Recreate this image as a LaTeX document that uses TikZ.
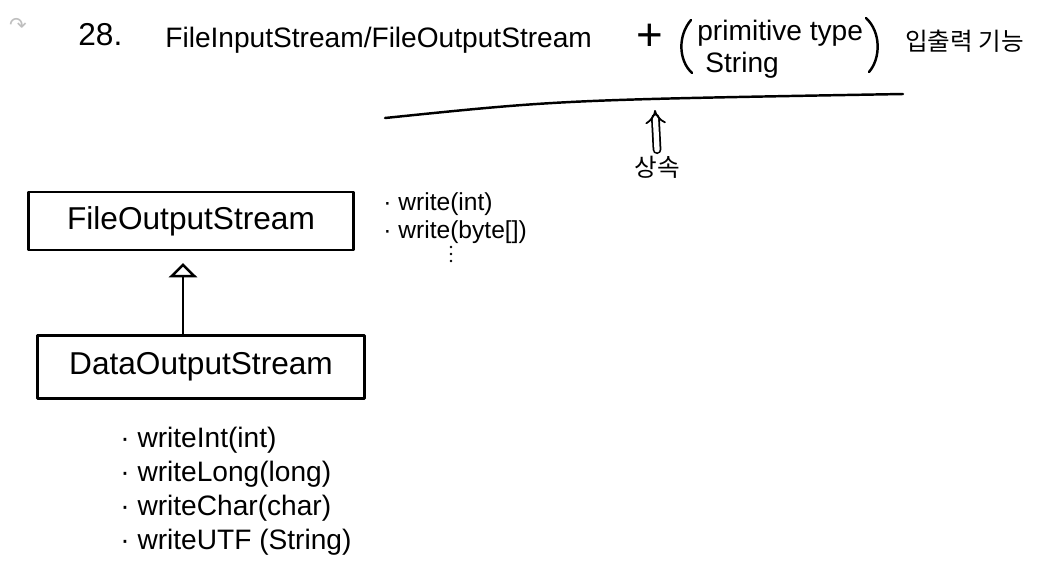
\documentclass[tikz,border=0pt]{standalone}
\usepackage{fontspec}
\setmainfont{Liberation Sans}
\newfontfamily\kr{Noto Sans CJK KR}
\newfontfamily\djv{DejaVu Sans}
\usetikzlibrary{arrows.meta}

\begin{document}
\begin{tikzpicture}[x=0.02cm, y=-0.02cm, line join=round, line cap=round,
    trazo/.style={line width=1.4pt},
    caja/.style={draw, line width=1.4pt, inner sep=0pt, font=\fontsize{18}{20}\selectfont},
    metodo/.style={anchor=base west, inner sep=0pt, font=\fontsize{16}{18}\selectfont},
    titulo/.style={anchor=base west, inner sep=0pt, font=\fontsize{16}{18}\selectfont}]
    % marco 1060 x 575, coordenadas en pixeles
    \useasboundingbox (0,0) rectangle (1060,575);
    % encabezado
    \node[text=black!25, font=\djv\fontsize{12}{12}\selectfont] (icono) at (18,25) {↷};
    \node[titulo, font=\fontsize{18}{20}\selectfont] (num) at (78,45) {28.};
    \node[titulo] (clases) at (165,47) {FileInputStream/FileOutputStream};
    \node[font=\fontsize{26}{26}\selectfont] (mas) at (650,37) {+};
    \node[titulo] (prim) at (697,40) {primitive type};
    \node[titulo] (str) at (705,72) {String};
    \node[titulo, font=\kr\fontsize{14}{16}\selectfont] (func) at (905,50) {입출력 기능};
    \draw[trazo] (691,20) .. controls (678,35) and (678,60) .. (692,73);
    \draw[trazo] (866,18) .. controls (881,32) and (881,58) .. (869,72);
    % subrayado y flecha doble
    \coordinate (ini) at (385,118); \coordinate (fin) at (903,94);
    \draw[trazo] (ini) .. controls (560,100) .. (fin);
    \coordinate (punta) at (655,110);
    \node[font=\kr\fontsize{14}{16}\selectfont] (inh) at (657,167) {상속};
    \draw[line width=1pt, double, double distance=3pt, -{Implies[scale=1.4]}] (inh.north) -- (punta);
    % clases
    \node[caja, minimum width=6.5cm, minimum height=1.16cm] (fos) at (191,221) {FileOutputStream};
    \node[caja, minimum width=6.55cm, minimum height=1.26cm] (dos) at (201,367) {DataOutputStream};
    \coordinate (eje) at (183,300);
    \draw[trazo, -{Triangle[open, length=8pt, width=16pt]}, shorten >=0.24cm] (dos.north -| eje) -- (fos.south -| eje);
    % metodos
    \node[metodo, font=\fontsize{14}{16}\selectfont] (w1) at (383,210) {· write(int)};
    \node[metodo, font=\fontsize{14}{16}\selectfont] (w2) at (383,238) {· write(byte[])};
    \foreach \y in {247,254,261}
        \fill (451,\y) circle (1.4);
    \foreach \m [count=\i] in {writeInt(int), writeLong(long), writeChar(char), {writeUTF (String)}}
        \node[metodo] (d\i) at (120,413+34*\i) {· \m};
\end{tikzpicture}
\end{document}
